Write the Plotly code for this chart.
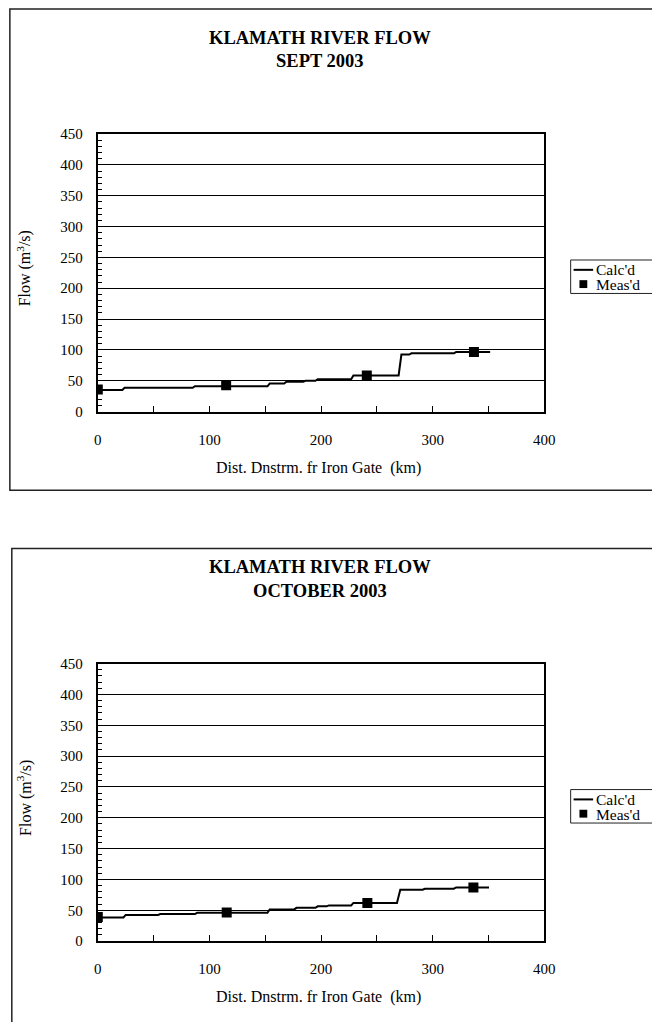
import plotly.graph_objects as go

# ---- data ----
sep_calc_x = [0, 22, 24, 85, 87, 152, 154, 167, 169, 184, 186, 195, 197, 227, 229, 269.5, 272, 279, 281, 319, 321, 351.5]
sep_calc_y = [35, 35, 38.5, 38.5, 41, 41, 45.5, 45.5, 48.5, 48.5, 50, 50, 52.5, 52.5, 58.5, 58.5, 92.5, 92.5, 94.5, 94.5, 96.5, 96.5]
sep_meas_x = [0, 115, 241, 337]
sep_meas_y = [36, 42.5, 58.5, 96.5]

oct_calc_x = [0, 23, 25, 54, 56, 87, 89, 152, 154, 176, 178, 195, 197, 205, 207, 227, 229, 268, 271, 291, 293, 319, 321, 350.5]
oct_calc_y = [38.5, 38.5, 42.5, 42.5, 44, 44, 46, 46, 51.5, 51.5, 54, 54, 56.5, 56.5, 58, 58, 62, 62, 83.5, 83.5, 85, 85, 87, 87]
oct_meas_x = [0, 115.5, 241.5, 336.5]
oct_meas_y = [39, 46.5, 62, 87]

titles = [("KLAMATH RIVER FLOW", "SEPT 2003"), ("KLAMATH RIVER FLOW", "OCTOBER 2003")]
x_title = "Dist. Dnstrm. fr Iron Gate  (km)"
y_title = "Flow (m<sup>3</sup>/s)"
legend_names = ["Calc'd", "Meas'd"]

W, H = 652, 1022
FONT = "Liberation Serif, Times New Roman, serif"

def px(x):
    return x / W

def py(y):
    return 1 - y / H

fig = go.Figure()

offset = 538
plot_left, plot_right = 96, 553
plot_top, plot_bot = 128, 410

series = [(sep_calc_x, sep_calc_y, sep_meas_x, sep_meas_y), (oct_calc_x, oct_calc_y, oct_meas_x, oct_meas_y)]

for i, (cx, cy, mx, my) in enumerate(series):
    xa = "x" if i == 0 else "x2"
    ya = "y" if i == 0 else "y2"
    fig.add_trace(go.Scatter(x=cx, y=cy, mode="lines", name=legend_names[0], showlegend=False,
                             line=dict(color="black", width=2), xaxis=xa, yaxis=ya))
    fig.add_trace(go.Scatter(x=mx, y=my, mode="markers", name=legend_names[1], showlegend=False,
                             marker=dict(symbol="square", color="black", size=10, line=dict(width=0)),
                             xaxis=xa, yaxis=ya))

axis_common_x = dict(range=[0, 400], dtick=100, tick0=0, showgrid=False, zeroline=False,
                     showline=True, linecolor="black", linewidth=2, mirror=True,
                     ticks="inside", ticklen=6, tickwidth=1, tickcolor="black",
                     minor=dict(dtick=50, ticks="inside", ticklen=6, tickcolor="black", showgrid=False),
                     tickfont=dict(family=FONT, size=15, color="black"), ticklabelstandoff=13)
axis_common_y = dict(range=[0, 450], dtick=50, tick0=0, showgrid=True, gridcolor="black", gridwidth=1,
                     zeroline=False, showline=True, linecolor="black", linewidth=2, mirror=True,
                     ticks="inside", ticklen=5, tickwidth=1, tickcolor="black",
                     minor=dict(dtick=10, ticks="inside", ticklen=4, tickcolor="black", showgrid=False),
                     tickfont=dict(family=FONT, size=15, color="black"), ticklabelstandoff=10)

dom_x = [px(plot_left), px(plot_right)]
fig.update_layout(
    xaxis=dict(domain=dom_x, anchor="y", **axis_common_x),
    yaxis=dict(domain=[py(plot_bot), py(plot_top)], anchor="x", **axis_common_y),
    xaxis2=dict(domain=dom_x, anchor="y2", **axis_common_x),
    yaxis2=dict(domain=[py(plot_bot + offset), py(plot_top + offset)], anchor="x2", **axis_common_y),
)

shapes = []
annotations = []
borders = [(6, 1, 700, 490), (8, 549, 700, 1100)]
for i in range(2):
    o = offset * i
    x0, y0, x1, y1 = borders[i]
    shapes.append(dict(type="rect", xref="paper", yref="paper", x0=px(x0), x1=px(x1), y0=py(y1), y1=py(y0),
                       line=dict(color="#222222", width=1.5), fillcolor="rgba(0,0,0,0)", layer="below"))
    annotations.append(dict(text="<b>%s</b>" % titles[i][0], x=px(323), y=py(30 + o), xref="paper", yref="paper",
                            showarrow=False, xanchor="center", yanchor="middle",
                            font=dict(family=FONT, size=18.5, color="black")))
    annotations.append(dict(text="<b>%s</b>" % titles[i][1], x=px(323), y=py(54 + o), xref="paper", yref="paper",
                            showarrow=False, xanchor="center", yanchor="middle",
                            font=dict(family=FONT, size=18.5, color="black")))
    annotations.append(dict(text=x_title, x=px(322), y=py(467 + o), xref="paper", yref="paper",
                            showarrow=False, xanchor="center", yanchor="middle",
                            font=dict(family=FONT, size=16, color="black")))
    annotations.append(dict(text=y_title, x=px(21), y=py(265 + o), xref="paper", yref="paper",
                            showarrow=False, xanchor="center", yanchor="middle", textangle=-90,
                            font=dict(family=FONT, size=16, color="black")))
    # legend box (drawn to match the reference's compact legend)
    ly = 256 + o
    shapes.append(dict(type="rect", xref="paper", yref="paper", x0=px(580), x1=px(700),
                       y0=py(ly + 34), y1=py(ly), line=dict(color="#222222", width=1), fillcolor="white"))
    shapes.append(dict(type="line", xref="paper", yref="paper", x0=px(583), x1=px(603),
                       y0=py(ly + 10), y1=py(ly + 10), line=dict(color="black", width=2)))
    shapes.append(dict(type="rect", xref="paper", yref="paper", x0=px(589), x1=px(597),
                       y0=py(ly + 28.5), y1=py(ly + 20.5), line=dict(width=0), fillcolor="black"))
    annotations.append(dict(text=legend_names[0], x=px(604), y=py(ly + 10), xref="paper", yref="paper",
                            showarrow=False, xanchor="left", yanchor="middle",
                            font=dict(family=FONT, size=15.5, color="black")))
    annotations.append(dict(text=legend_names[1], x=px(604), y=py(ly + 25), xref="paper", yref="paper",
                            showarrow=False, xanchor="left", yanchor="middle",
                            font=dict(family=FONT, size=15.5, color="black")))

fig.update_layout(
    shapes=shapes, annotations=annotations, showlegend=False,
    width=W, height=H, margin=dict(l=0, r=0, t=0, b=0),
    paper_bgcolor="white", plot_bgcolor="white",
)

fig.write_html("out.html", config={"displayModeBar": False},
               post_script="document.body.style.margin='0';document.body.style.overflow='hidden';")
